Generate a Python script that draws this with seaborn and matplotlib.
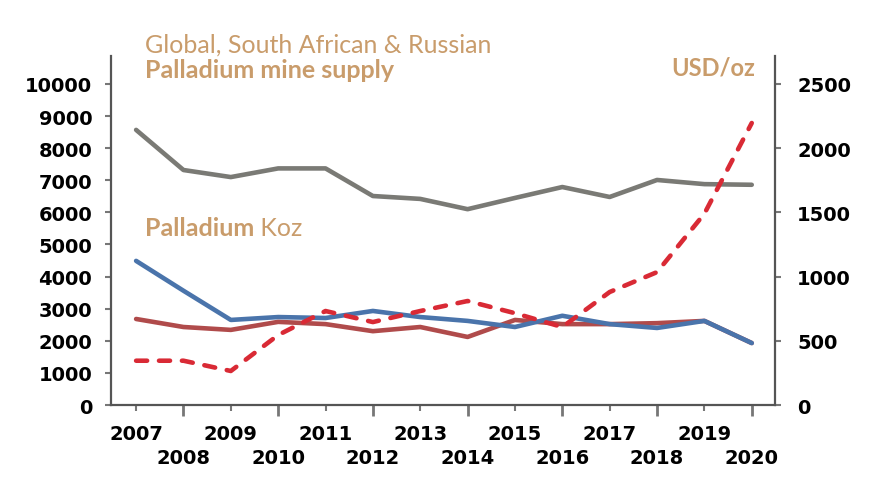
import numpy as np
import pandas as pd
import matplotlib
matplotlib.use("Agg")
import matplotlib.pyplot as plt
import seaborn as sns

# -------------------------------------------------------
# Dane
# -------------------------------------------------------
years = list(range(2007, 2021))
global_supply = [8570, 7320, 7100, 7370, 7370, 6510, 6420, 6100, 6450, 6790, 6480, 7010, 6880, 6860]
south_africa = [2680, 2430, 2340, 2590, 2520, 2300, 2430, 2120, 2650, 2520, 2520, 2550, 2620, 1930]
russia = [4490, 3560, 2650, 2740, 2710, 2930, 2740, 2620, 2430, 2780, 2520, 2400, 2620, 1930]
price_usd = [345, 345, 265, 545, 732, 646, 732, 810, 715, 607, 880, 1035, 1490, 2196]

left_ticks = list(range(0, 10001, 1000))
right_ticks = list(range(0, 2501, 500))

# kolory
c_gray = '#7a7a75'
c_sa = '#b04b4b'
c_ru = '#4a74ab'
c_price = '#d92a35'
c_text = '#c99c6b'
c_spine = '#555555'
c_tick = '#777777'

sns.set_style('white')
plt.rcParams['font.family'] = ['DejaVu Sans']

fig = plt.figure(figsize=(8.88, 5.02), dpi=100)
ax = fig.add_axes([0.125, 0.1912, 0.7477, 0.6953])
ax2 = ax.twinx()

df = pd.DataFrame({'rok': years, 'global': global_supply, 'sa': south_africa,
                   'ru': russia, 'cena': price_usd})

lw = 3.3
sns.lineplot(data=df, x='rok', y='global', ax=ax, color=c_gray, lw=lw, solid_capstyle='round')
sns.lineplot(data=df, x='rok', y='sa', ax=ax, color=c_sa, lw=lw, solid_capstyle='round')
sns.lineplot(data=df, x='rok', y='ru', ax=ax, color=c_ru, lw=lw, solid_capstyle='round')
sns.lineplot(data=df, x='rok', y='cena', ax=ax2, color=c_price, lw=lw,
             linestyle=(0, (2.4, 2.6)), dash_capstyle='round')

# osie
ax.set_xlim(2006.47, 2020.49)
ax.set_ylim(0, 10872)
ax2.set_ylim(0, 10872 / 4)
for a in (ax, ax2):
    a.set_xlabel('')
    a.set_ylabel('')
    for s in a.spines.values():
        s.set_visible(False)

ax.spines['left'].set_visible(True)
ax.spines['bottom'].set_visible(True)
ax2.spines['right'].set_visible(True)
for s in (ax.spines['left'], ax.spines['bottom'], ax2.spines['right']):
    s.set_color(c_spine)
    s.set_linewidth(1.6)

tick_font = dict(fontsize=14, fontweight='bold', color='black')

ax.set_yticks(left_ticks)
ax.set_yticklabels([str(v) for v in left_ticks], **tick_font)
ax.tick_params(axis='y', which='major', left=True, length=4.5, width=1.5,
               color=c_tick, pad=9)

ax2.set_yticks(right_ticks)
ax2.set_yticklabels([str(v) for v in right_ticks], **tick_font)
ax2.tick_params(axis='y', which='major', right=True, length=4, width=1.5,
                color=c_tick, pad=12)

even_years = [y for y in years if y % 2 == 0]
odd_years = [y for y in years if y % 2 == 1]
ax.set_xticks(even_years)
ax.set_xticklabels([str(y) for y in even_years], **tick_font)
ax.set_xticks(odd_years, minor=True)
ax.set_xticklabels([str(y) for y in odd_years], minor=True, **tick_font)
ax.tick_params(axis='x', which='major', bottom=True, length=8, width=2,
               color=c_tick, pad=23)
ax.tick_params(axis='x', which='minor', bottom=True, length=4, width=1.5,
               color=c_tick, pad=10)
ax.grid(False)
ax2.grid(False)

# opisy
txt = dict(family='Lato', color=c_text, fontsize=18)
fig.text(145 / 888, 1 - 53 / 502, 'Global, South African & Russian', ha='left', va='baseline', **txt)
fig.text(145 / 888, 1 - 78 / 502, 'Palladium mine supply', ha='left', va='baseline',
         fontweight='bold', **txt)
fig.text(755 / 888, 1 - 76 / 502, 'USD/oz', ha='right', va='baseline', fontweight='bold',
         family='Lato', color=c_text, fontsize=17)
t1 = fig.text(145 / 888, 1 - 236 / 502, 'Palladium', ha='left', va='baseline',
              fontweight='bold', **txt)
fig.canvas.draw()
ax.annotate(' Koz', xy=(1, 0), xycoords=t1, ha='left', va='bottom', **txt)

plt.savefig('out.png', dpi=100)
plt.close()
